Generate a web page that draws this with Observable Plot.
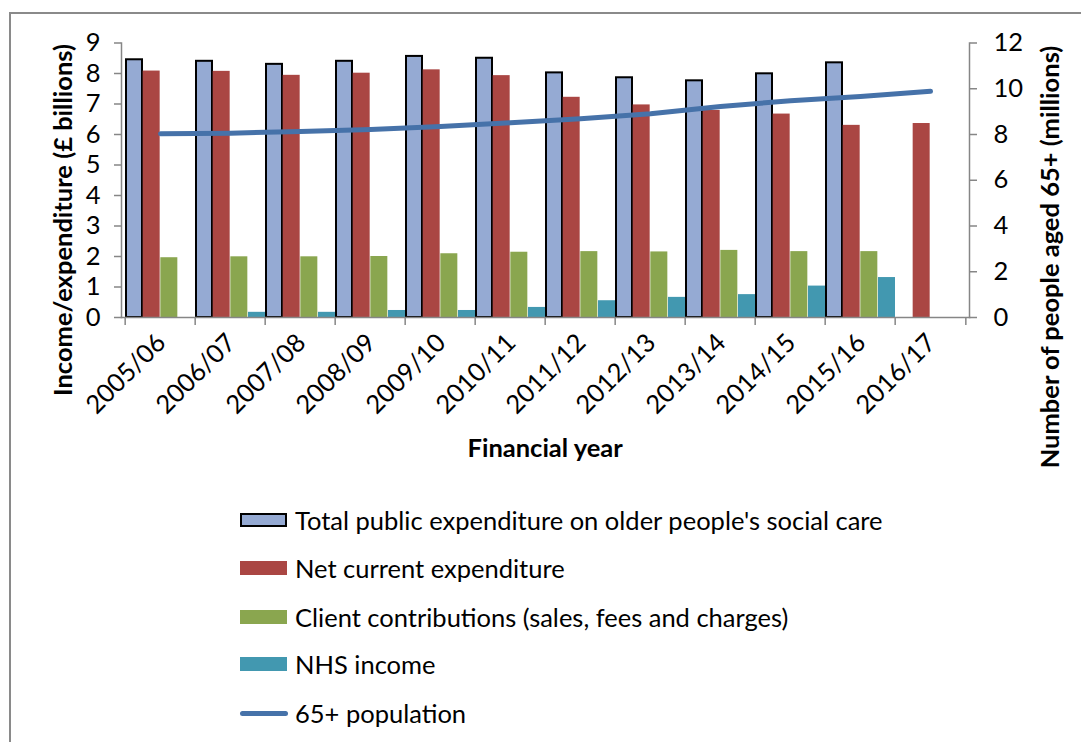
<!DOCTYPE html>
<html><head><meta charset="utf-8">
<script src="https://cdn.jsdelivr.net/npm/d3@7"></script>
<script src="https://cdn.jsdelivr.net/npm/@observablehq/plot@0.6"></script>
<style>
body{margin:0;background:#fff;font-family:Lato,"Open Sans",sans-serif;color:#000}
#wrap{position:relative;width:1081px;height:742px;overflow:hidden;background:#fff}
#border{position:absolute;left:9px;top:12px;width:1200px;height:800px;border-top:2px solid #8a8a8a;border-left:2px solid #8a8a8a}
#chart{position:absolute;left:0;top:0}
.title{position:absolute;font-weight:700;font-size:25.5px;white-space:nowrap;transform-origin:center center}
.row{position:absolute;left:240px;height:32px;display:flex;align-items:center;font-size:25.5px;white-space:nowrap}
.sw{width:47px;height:14px;margin-right:8px;box-sizing:border-box}
.ln{width:48px;height:5px;border-radius:3px;margin-right:7px}
</style></head>
<body>
<div id="wrap">
  <div id="border"></div>
  <div id="chart"></div>
  <div class="title" id="ylab"></div>
  <div class="title" id="y2lab"></div>
  <div class="title" id="xlab"></div>
  <div id="legend"></div>
</div>
<script>
const years = ["2005/06","2006/07","2007/08","2008/09","2009/10","2010/11","2011/12","2012/13","2013/14","2014/15","2015/16","2016/17"];
const totalSpend   = [8.45, 8.40, 8.30, 8.40, 8.56, 8.50, 8.02, 7.86, 7.76, 7.99, 8.35, null];
const netSpend     = [8.08, 8.07, 7.94, 8.01, 8.12, 7.93, 7.22, 6.97, 6.79, 6.67, 6.30, 6.36];
const clientContrib= [1.96, 1.99, 1.99, 2.00, 2.09, 2.14, 2.16, 2.15, 2.20, 2.16, 2.16, null];
const nhsIncome    = [null, 0.17, 0.17, 0.23, 0.23, 0.33, 0.55, 0.66, 0.75, 1.03, 1.31, null];
const pop65        = [8.03, 8.06, 8.13, 8.22, 8.35, 8.51, 8.69, 8.91, 9.22, 9.48, 9.66, 9.89];
const leftTicks  = [0,1,2,3,4,5,6,7,8,9];
const rightTicks = [0,2,4,6,8,10,12];
const seriesNames = ["Total public expenditure on older people's social care","Net current expenditure","Client contributions (sales, fees and charges)","NHS income"];
const seriesColors = ["#95AAD3","#AA4643","#8AA64F","#4298B0"];
const lineName = "65+ population";
const lineColor = "#4672A9";
const yTitle = "Income/expenditure (£ billions)";
const y2Title = "Number of people aged 65+ (millions)";
const xTitle = "Financial year";

const seriesValues = [totalSpend, netSpend, clientContrib, nhsIncome];
const ratio = 9 / 12; // right axis (0-12) mapped onto left axis (0-9)

const W = 1081, H = 480, ML = 121, MR = 112, MT = 42.5, MB = H - 317;
const bw = (W - ML - MR) / years.length;
const q = bw / 4;
const FS = 25.5;

const barMarks = seriesValues.map((vals, i) => {
  const rows = years.map((y, j) => ({year: y, v: vals[j]})).filter(d => d.v != null);
  return Plot.barY(rows, {
    x: "year", y: "v", fill: seriesColors[i],
    insetLeft: i * q + (i === 0 ? 1 : 0), insetRight: (3 - i) * q,
    stroke: i === 0 ? "#000" : null, strokeWidth: i === 0 ? 2 : 0
  });
});
const popRows = years.map((y, j) => ({year: y, v: pop65[j]}));

const chart = Plot.plot({
  width: W, height: H,
  marginLeft: ML, marginRight: MR, marginTop: MT, marginBottom: MB,
  style: {fontFamily: "Lato, 'Open Sans', sans-serif", fontSize: FS + "px", color: "#000", background: "transparent"},
  x: {domain: years, padding: 0, axis: null},
  y: {domain: [0, 9], axis: null},
  marks: [
    ...barMarks,
    Plot.frame({anchor: "left", stroke: "#868686", strokeWidth: 1.5}),
    Plot.frame({anchor: "right", stroke: "#868686", strokeWidth: 1.5}),
    Plot.frame({anchor: "bottom", stroke: "#868686", strokeWidth: 1.5}),
    Plot.axisY({anchor: "left", ticks: leftTicks, tickSize: 7, tickPadding: 14, stroke: "#868686", color: "#000", strokeWidth: 1.5, fontSize: FS, label: null}),
    Plot.axisY({anchor: "right", ticks: rightTicks.map(t => t * ratio), tickFormat: d => String(Math.round(d / ratio)), tickSize: 7, tickPadding: 17, stroke: "#868686", color: "#000", strokeWidth: 1.5, fontSize: FS, label: null}),
    Plot.axisX({anchor: "bottom", tickSize: 8, tickFormat: () => "", dx: -bw / 2, stroke: "#868686", strokeWidth: 1.5, label: null}),
    Plot.axisX({anchor: "bottom", ticks: [years[years.length - 1]], tickSize: 8, tickFormat: () => "", dx: bw / 2, stroke: "#868686", strokeWidth: 1.5, label: null}),
    Plot.axisX({anchor: "bottom", tickSize: 0, tickRotate: -45, tickPadding: 21, dx: 1, fontSize: FS, color: "#000", label: null}),
    Plot.line(popRows, {x: "year", y: d => d.v * ratio, stroke: lineColor, strokeWidth: 5, strokeLinecap: "round", strokeLinejoin: "round"})
  ]
});
document.getElementById("chart").appendChild(chart);

function placeTitle(id, text, cx, cy, rot) {
  const el = document.getElementById(id);
  el.textContent = text;
  const w = el.offsetWidth, h = el.offsetHeight;
  el.style.left = (cx - w / 2) + "px";
  el.style.top = (cy - h / 2) + "px";
  if (rot) el.style.transform = `rotate(${rot}deg)`;
}
placeTitle("ylab", yTitle, 62, 220, -90);
placeTitle("y2lab", y2Title, 1049, 257, -90);
placeTitle("xlab", xTitle, 545, 447, 0);

const legend = document.getElementById("legend");
const rowsY = [520, 568, 617, 664, 713];
seriesNames.forEach((name, i) => {
  const r = document.createElement("div");
  r.className = "row";
  r.style.top = (rowsY[i] - 16) + "px";
  const sw = document.createElement("div");
  sw.className = "sw";
  sw.style.background = seriesColors[i];
  if (i === 0) sw.style.border = "2px solid #000";
  r.appendChild(sw);
  r.appendChild(document.createTextNode(name));
  legend.appendChild(r);
});
{
  const r = document.createElement("div");
  r.className = "row";
  r.style.top = (rowsY[4] - 16) + "px";
  const ln = document.createElement("div");
  ln.className = "ln";
  ln.style.background = lineColor;
  r.appendChild(ln);
  r.appendChild(document.createTextNode(lineName));
  legend.appendChild(r);
}
</script>
</body></html>
